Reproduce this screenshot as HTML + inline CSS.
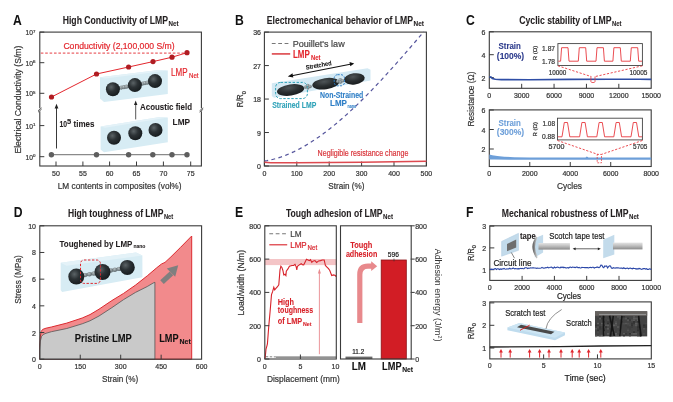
<!DOCTYPE html>
<html><head><meta charset="utf-8"><style>
html,body{margin:0;padding:0;background:#fff;}
svg{display:block;filter:blur(0.4px);}
text{font-family:"Liberation Sans", sans-serif;}
</style></head><body>
<svg width="673" height="402" viewBox="0 0 673 402">
<defs>
<radialGradient id="sph" cx="0.38" cy="0.35" r="0.7"><stop offset="0" stop-color="#5b6366"/><stop offset="0.45" stop-color="#2c3235"/><stop offset="1" stop-color="#151a1c"/></radialGradient>
<radialGradient id="ell" cx="0.45" cy="0.3" r="0.75"><stop offset="0" stop-color="#4e5457"/><stop offset="0.5" stop-color="#2a2f31"/><stop offset="1" stop-color="#16191b"/></radialGradient>
<radialGradient id="knob" cx="0.4" cy="0.35" r="0.7"><stop offset="0" stop-color="#b4bec1"/><stop offset="1" stop-color="#5c676b"/></radialGradient>
<linearGradient id="cyl" x1="0" y1="0" x2="0" y2="1"><stop offset="0" stop-color="#e4e4e4"/><stop offset="0.45" stop-color="#c0c0c0"/><stop offset="1" stop-color="#8a8a8a"/></linearGradient>
<linearGradient id="tapeg" x1="0" y1="0" x2="1" y2="0"><stop offset="0" stop-color="#555"/><stop offset="1" stop-color="#ddd"/></linearGradient>
</defs>
<rect width="673" height="402" fill="#fff"/>
<text x="0" y="0" font-size="14.5" font-weight="bold" fill="#111" transform="translate(13.00 24.5) scale(0.84 1)">A</text>
<text x="62.70" y="24.00" font-size="10.4" font-weight="bold" fill="#231f20" stroke="#231f20" stroke-width="0.08" text-anchor="start" textLength="105.30" lengthAdjust="spacingAndGlyphs">High Conductivity of LMP</text>
<text x="168.60" y="25.70" font-size="6.3" font-weight="bold" fill="#231f20" stroke="#231f20" stroke-width="0.08" text-anchor="start" textLength="10.00" lengthAdjust="spacingAndGlyphs">Net</text>
<rect x="39.80" y="32.10" width="161.60" height="133.90" fill="none" stroke="#3a3a3a" stroke-width="1.1"/>
<line x1="39.80" y1="32.10" x2="44.30" y2="32.10" stroke="#3a3a3a" stroke-width="1"/>
<text x="25.50" y="35.00" font-size="7.0" font-weight="normal" fill="#333" stroke="#333" stroke-width="0.2" text-anchor="start" textLength="7.40" lengthAdjust="spacingAndGlyphs">10</text>
<text x="33.10" y="32.70" font-size="4.4" font-weight="normal" fill="#333" stroke="#333" stroke-width="0.2" text-anchor="start">7</text>
<line x1="39.80" y1="62.70" x2="44.30" y2="62.70" stroke="#3a3a3a" stroke-width="1"/>
<text x="25.50" y="65.60" font-size="7.0" font-weight="normal" fill="#333" stroke="#333" stroke-width="0.2" text-anchor="start" textLength="7.40" lengthAdjust="spacingAndGlyphs">10</text>
<text x="33.10" y="63.30" font-size="4.4" font-weight="normal" fill="#333" stroke="#333" stroke-width="0.2" text-anchor="start">6</text>
<line x1="39.80" y1="93.30" x2="44.30" y2="93.30" stroke="#3a3a3a" stroke-width="1"/>
<text x="25.50" y="96.20" font-size="7.0" font-weight="normal" fill="#333" stroke="#333" stroke-width="0.2" text-anchor="start" textLength="7.40" lengthAdjust="spacingAndGlyphs">10</text>
<text x="33.10" y="93.90" font-size="4.4" font-weight="normal" fill="#333" stroke="#333" stroke-width="0.2" text-anchor="start">5</text>
<line x1="39.80" y1="125.60" x2="44.30" y2="125.60" stroke="#3a3a3a" stroke-width="1"/>
<text x="25.50" y="128.50" font-size="7.0" font-weight="normal" fill="#333" stroke="#333" stroke-width="0.2" text-anchor="start" textLength="7.40" lengthAdjust="spacingAndGlyphs">10</text>
<text x="33.10" y="126.20" font-size="4.4" font-weight="normal" fill="#333" stroke="#333" stroke-width="0.2" text-anchor="start">1</text>
<line x1="39.80" y1="156.70" x2="44.30" y2="156.70" stroke="#3a3a3a" stroke-width="1"/>
<text x="25.50" y="159.60" font-size="7.0" font-weight="normal" fill="#333" stroke="#333" stroke-width="0.2" text-anchor="start" textLength="7.40" lengthAdjust="spacingAndGlyphs">10</text>
<text x="33.10" y="157.30" font-size="4.4" font-weight="normal" fill="#333" stroke="#333" stroke-width="0.2" text-anchor="start">0</text>
<rect x="37.80" y="108.3" width="4" height="3" fill="#fff"/>
<path d="M38.00,110.8 L41.60,107.8 M38.00,112.2 L41.60,109.2" fill="none" stroke="#3a3a3a" stroke-width="0.8"/>
<rect x="199.40" y="108.3" width="4" height="3" fill="#fff"/>
<path d="M199.60,110.8 L203.20,107.8 M199.60,112.2 L203.20,109.2" fill="none" stroke="#3a3a3a" stroke-width="0.8"/>
<line x1="56.00" y1="166.00" x2="56.00" y2="161.50" stroke="#3a3a3a" stroke-width="1"/>
<text x="56.00" y="175.60" font-size="7.0" font-weight="normal" fill="#333" stroke="#333" stroke-width="0.2" text-anchor="middle">50</text>
<line x1="82.90" y1="166.00" x2="82.90" y2="161.50" stroke="#3a3a3a" stroke-width="1"/>
<text x="82.90" y="175.60" font-size="7.0" font-weight="normal" fill="#333" stroke="#333" stroke-width="0.2" text-anchor="middle">55</text>
<line x1="109.60" y1="166.00" x2="109.60" y2="161.50" stroke="#3a3a3a" stroke-width="1"/>
<text x="109.60" y="175.60" font-size="7.0" font-weight="normal" fill="#333" stroke="#333" stroke-width="0.2" text-anchor="middle">60</text>
<line x1="136.50" y1="166.00" x2="136.50" y2="161.50" stroke="#3a3a3a" stroke-width="1"/>
<text x="136.50" y="175.60" font-size="7.0" font-weight="normal" fill="#333" stroke="#333" stroke-width="0.2" text-anchor="middle">65</text>
<line x1="163.40" y1="166.00" x2="163.40" y2="161.50" stroke="#3a3a3a" stroke-width="1"/>
<text x="163.40" y="175.60" font-size="7.0" font-weight="normal" fill="#333" stroke="#333" stroke-width="0.2" text-anchor="middle">70</text>
<line x1="190.70" y1="166.00" x2="190.70" y2="161.50" stroke="#3a3a3a" stroke-width="1"/>
<text x="190.70" y="175.60" font-size="7.0" font-weight="normal" fill="#333" stroke="#333" stroke-width="0.2" text-anchor="middle">75</text>
<text x="57.70" y="188.60" font-size="9.0" font-weight="normal" fill="#333" stroke="#333" stroke-width="0.2" text-anchor="start" textLength="123.80" lengthAdjust="spacingAndGlyphs">LM contents in composites (vol%)</text>
<text x="20.70" y="99.60" font-size="9.0" font-weight="normal" fill="#333" stroke="#333" stroke-width="0.2" text-anchor="middle" textLength="108.00" lengthAdjust="spacingAndGlyphs" transform="rotate(-90 20.70 99.60)">Electrical Conductivity (S/m)</text>
<line x1="40.80" y1="53.10" x2="185.00" y2="53.10" stroke="#e3262d" stroke-width="0.9" stroke-dasharray="2.6,1.8"/>
<text x="63.40" y="48.80" font-size="9.0" font-weight="normal" fill="#e3262d" stroke="#e3262d" stroke-width="0.2" text-anchor="start" textLength="111.20" lengthAdjust="spacingAndGlyphs">Conductivity (2,100,000 S/m)</text>
<path d="M51.40,154.70 L96.50,154.70 L128.60,154.70 L152.80,154.70 L172.00,154.70 L187.00,154.70" fill="none" stroke="#8a8a8a" stroke-width="1.3"/>
<circle cx="51.4" cy="154.7" r="2.7" fill="#5e5e5e"/>
<circle cx="96.5" cy="154.7" r="2.7" fill="#5e5e5e"/>
<circle cx="128.6" cy="154.7" r="2.7" fill="#5e5e5e"/>
<circle cx="152.8" cy="154.7" r="2.7" fill="#5e5e5e"/>
<circle cx="172.0" cy="154.7" r="2.7" fill="#5e5e5e"/>
<circle cx="187.0" cy="154.7" r="2.7" fill="#5e5e5e"/>
<path d="M51.50,97.00 L96.50,74.00 L128.60,67.00 L153.00,61.60 L172.00,57.20 L187.00,52.70" fill="none" stroke="#e3262d" stroke-width="1.0"/>
<circle cx="51.5" cy="97.0" r="2.6" fill="#b01c22"/>
<circle cx="96.5" cy="74.0" r="2.6" fill="#b01c22"/>
<circle cx="128.6" cy="67.0" r="2.6" fill="#b01c22"/>
<circle cx="153.0" cy="61.6" r="2.6" fill="#b01c22"/>
<circle cx="172.0" cy="57.2" r="2.6" fill="#b01c22"/>
<circle cx="187.0" cy="52.7" r="2.6" fill="#b01c22"/>
<text x="171.00" y="76.10" font-size="10.0" font-weight="normal" fill="#e3262d" stroke="#e3262d" stroke-width="0.2" text-anchor="start" textLength="16.50" lengthAdjust="spacingAndGlyphs">LMP</text>
<text x="189.00" y="78.00" font-size="6.5" font-weight="normal" fill="#e3262d" stroke="#e3262d" stroke-width="0.2" text-anchor="start" textLength="9.50" lengthAdjust="spacingAndGlyphs">Net</text>
<line x1="56.50" y1="148.50" x2="56.50" y2="107.50" stroke="#222" stroke-width="0.9"/>
<path d="M56.5,103.8 L54.6,108.6 L58.4,108.6 Z" fill="#222" stroke="none" stroke-width="1.0"/>
<text x="59.40" y="127.30" font-size="8.2" font-weight="bold" fill="#231f20" stroke="#231f20" stroke-width="0.08" text-anchor="start" textLength="7.60" lengthAdjust="spacingAndGlyphs">10</text>
<text x="67.00" y="124.30" font-size="6.4" font-weight="bold" fill="#231f20" stroke="#231f20" stroke-width="0.08" text-anchor="start" textLength="4.20" lengthAdjust="spacingAndGlyphs">5</text>
<text x="73.50" y="127.30" font-size="8.7" font-weight="bold" fill="#231f20" stroke="#231f20" stroke-width="0.08" text-anchor="start" textLength="20.90" lengthAdjust="spacingAndGlyphs">times</text>
<path d="M100,77.3 L158.9,69.9 L167.8,70.5 L167.8,94.1 L104,102 L100,98.6 Z" fill="#d7ecf4"/>
<path d="M100,77.3 L158.9,69.9 L167.8,70.5 L105,78.6 Z" fill="#e4f2f8"/>
<path d="M100.6,126.6 L158.5,117.2 L167.8,117.6 L167.8,142.2 L104,152.3 L100.6,149.5 Z" fill="#d7ecf4"/>
<path d="M100.6,126.6 L158.5,117.2 L167.8,117.6 L105,127.8 Z" fill="#e4f2f8"/>
<line x1="112.90" y1="89.20" x2="134.90" y2="85.10" stroke="#6f7a7e" stroke-width="2.8"/>
<circle cx="121.3" cy="87.6" r="2.1" fill="url(#knob)"/>
<circle cx="123.9" cy="87.2" r="2.1" fill="url(#knob)"/>
<circle cx="126.5" cy="86.7" r="2.1" fill="url(#knob)"/>
<line x1="134.90" y1="85.10" x2="155.00" y2="81.10" stroke="#6f7a7e" stroke-width="2.8"/>
<circle cx="142.5" cy="83.6" r="2.1" fill="url(#knob)"/>
<circle cx="144.9" cy="83.1" r="2.1" fill="url(#knob)"/>
<circle cx="147.4" cy="82.6" r="2.1" fill="url(#knob)"/>
<circle cx="112.90" cy="89.20" r="7.00" fill="url(#sph)"/>
<circle cx="134.90" cy="85.10" r="7.00" fill="url(#sph)"/>
<circle cx="155.00" cy="81.10" r="7.00" fill="url(#sph)"/>
<circle cx="114.00" cy="137.80" r="7.00" fill="url(#sph)"/>
<circle cx="135.30" cy="133.30" r="7.00" fill="url(#sph)"/>
<circle cx="155.50" cy="129.90" r="7.00" fill="url(#sph)"/>
<line x1="135.70" y1="119.40" x2="135.70" y2="104.00" stroke="#444" stroke-width="0.9"/>
<path d="M135.7,100.5 L134,105 L137.4,105 Z" fill="#222" stroke="none" stroke-width="1.0"/>
<text x="140.00" y="110.10" font-size="9.6" font-weight="bold" fill="#231f20" stroke="#231f20" stroke-width="0.08" text-anchor="start" textLength="52.00" lengthAdjust="spacingAndGlyphs">Acoustic field</text>
<text x="172.60" y="124.60" font-size="9.1" font-weight="bold" fill="#231f20" stroke="#231f20" stroke-width="0.08" text-anchor="start" textLength="17.40" lengthAdjust="spacingAndGlyphs">LMP</text>
<text x="0" y="0" font-size="14.5" font-weight="bold" fill="#111" transform="translate(235.00 24.5) scale(0.84 1)">B</text>
<text x="266.80" y="24.00" font-size="10.4" font-weight="bold" fill="#231f20" stroke="#231f20" stroke-width="0.08" text-anchor="start" textLength="146.20" lengthAdjust="spacingAndGlyphs">Electromechanical behavior of LMP</text>
<text x="413.60" y="25.70" font-size="6.3" font-weight="bold" fill="#231f20" stroke="#231f20" stroke-width="0.08" text-anchor="start" textLength="10.40" lengthAdjust="spacingAndGlyphs">Net</text>
<rect x="264.40" y="32.10" width="162.00" height="133.90" fill="none" stroke="#3a3a3a" stroke-width="1.1"/>
<line x1="264.40" y1="166.00" x2="268.90" y2="166.00" stroke="#3a3a3a" stroke-width="1"/>
<text x="261.00" y="169.00" font-size="7.0" font-weight="normal" fill="#333" stroke="#333" stroke-width="0.2" text-anchor="end">0</text>
<line x1="264.40" y1="132.53" x2="268.90" y2="132.53" stroke="#3a3a3a" stroke-width="1"/>
<text x="261.00" y="135.53" font-size="7.0" font-weight="normal" fill="#333" stroke="#333" stroke-width="0.2" text-anchor="end">9</text>
<line x1="264.40" y1="99.05" x2="268.90" y2="99.05" stroke="#3a3a3a" stroke-width="1"/>
<text x="261.00" y="102.05" font-size="7.0" font-weight="normal" fill="#333" stroke="#333" stroke-width="0.2" text-anchor="end">18</text>
<line x1="264.40" y1="65.57" x2="268.90" y2="65.57" stroke="#3a3a3a" stroke-width="1"/>
<text x="261.00" y="68.57" font-size="7.0" font-weight="normal" fill="#333" stroke="#333" stroke-width="0.2" text-anchor="end">27</text>
<line x1="264.40" y1="32.10" x2="268.90" y2="32.10" stroke="#3a3a3a" stroke-width="1"/>
<text x="261.00" y="35.10" font-size="7.0" font-weight="normal" fill="#333" stroke="#333" stroke-width="0.2" text-anchor="end">36</text>
<line x1="264.40" y1="166.00" x2="264.40" y2="161.50" stroke="#3a3a3a" stroke-width="1"/>
<text x="264.40" y="175.60" font-size="7.0" font-weight="normal" fill="#333" stroke="#333" stroke-width="0.2" text-anchor="middle">0</text>
<line x1="296.80" y1="166.00" x2="296.80" y2="161.50" stroke="#3a3a3a" stroke-width="1"/>
<text x="296.80" y="175.60" font-size="7.0" font-weight="normal" fill="#333" stroke="#333" stroke-width="0.2" text-anchor="middle">100</text>
<line x1="329.20" y1="166.00" x2="329.20" y2="161.50" stroke="#3a3a3a" stroke-width="1"/>
<text x="329.20" y="175.60" font-size="7.0" font-weight="normal" fill="#333" stroke="#333" stroke-width="0.2" text-anchor="middle">200</text>
<line x1="361.60" y1="166.00" x2="361.60" y2="161.50" stroke="#3a3a3a" stroke-width="1"/>
<text x="361.60" y="175.60" font-size="7.0" font-weight="normal" fill="#333" stroke="#333" stroke-width="0.2" text-anchor="middle">300</text>
<line x1="394.00" y1="166.00" x2="394.00" y2="161.50" stroke="#3a3a3a" stroke-width="1"/>
<text x="394.00" y="175.60" font-size="7.0" font-weight="normal" fill="#333" stroke="#333" stroke-width="0.2" text-anchor="middle">400</text>
<line x1="426.40" y1="166.00" x2="426.40" y2="161.50" stroke="#3a3a3a" stroke-width="1"/>
<text x="426.40" y="175.60" font-size="7.0" font-weight="normal" fill="#333" stroke="#333" stroke-width="0.2" text-anchor="middle">500</text>
<text x="328.30" y="188.60" font-size="9.0" font-weight="normal" fill="#333" stroke="#333" stroke-width="0.2" text-anchor="start" textLength="36.10" lengthAdjust="spacingAndGlyphs">Strain (%)</text>
<text x="243.20" y="107.20" font-size="8.8" font-weight="normal" fill="#2a2a2a" stroke="#2a2a2a" stroke-width="0.2" text-anchor="start" textLength="12.80" lengthAdjust="spacingAndGlyphs" transform="rotate(-90 243.20 107.20)">R/R</text>
<text x="245.60" y="94.20" font-size="5.6" font-weight="normal" fill="#2a2a2a" stroke="#2a2a2a" stroke-width="0.2" text-anchor="start" transform="rotate(-90 245.60 94.20)">0</text>
<path d="M264.40,161.08 L267.10,160.63 L269.80,160.09 L272.51,159.47 L275.21,158.76 L277.91,157.97 L280.61,157.10 L283.31,156.15 L286.01,155.13 L288.72,154.02 L291.42,152.84 L294.12,151.59 L296.82,150.26 L299.52,148.87 L302.22,147.40 L304.93,145.86 L307.63,144.26 L310.33,142.59 L313.03,140.86 L315.73,139.07 L318.43,137.21 L321.14,135.30 L323.84,133.32 L326.54,131.29 L329.24,129.20 L331.94,127.06 L334.64,124.86 L337.35,122.62 L340.05,120.32 L342.75,117.97 L345.45,115.58 L348.15,113.14 L350.85,110.66 L353.56,108.13 L356.26,105.56 L358.96,102.95 L361.66,100.30 L364.36,97.61 L367.06,94.89 L369.77,92.13 L372.47,89.34 L375.17,86.51 L377.87,83.66 L380.57,80.77 L383.27,77.86 L385.98,74.92 L388.68,71.96 L391.38,68.97 L394.08,65.96 L396.78,62.93 L399.48,59.88 L402.19,56.81 L404.89,53.72 L407.59,50.62 L410.29,47.51 L412.99,44.38 L415.69,41.24 L418.40,38.09 L421.10,34.93 L423.80,31.76" fill="none" stroke="#55559c" stroke-width="1.2" stroke-dasharray="3.8,3.4"/>
<path d="M264.40,162.20 L270.88,162.80 L296.80,162.80 L361.60,162.20 L426.40,161.20" fill="none" stroke="#de4a50" stroke-width="1.5"/>
<text x="317.60" y="155.60" font-size="8.4" font-weight="normal" fill="#d9363c" stroke="#d9363c" stroke-width="0.2" text-anchor="start" textLength="90.80" lengthAdjust="spacingAndGlyphs">Negligible resistance change</text>
<line x1="271.80" y1="43.50" x2="290.20" y2="43.50" stroke="#777" stroke-width="1.1" stroke-dasharray="3.8,2.6"/>
<text x="292.70" y="46.70" font-size="9.0" font-weight="normal" fill="#444" stroke="#444" stroke-width="0.2" text-anchor="start" textLength="52.00" lengthAdjust="spacingAndGlyphs">Pouillet's law</text>
<line x1="271.80" y1="53.90" x2="290.20" y2="53.90" stroke="#e05a5e" stroke-width="1.8"/>
<text x="292.90" y="57.60" font-size="10.0" font-weight="bold" fill="#e3262d" stroke="#e3262d" stroke-width="0.08" text-anchor="start" textLength="16.80" lengthAdjust="spacingAndGlyphs">LMP</text>
<text x="311.00" y="59.70" font-size="6.5" font-weight="bold" fill="#e3262d" stroke="#e3262d" stroke-width="0.08" text-anchor="start" textLength="9.40" lengthAdjust="spacingAndGlyphs">Net</text>
<path d="M271.8,83.2 L367.5,68.2 L370.5,69.8 L370.5,80.6 L274,97.7 L271.8,96 Z" fill="#d4e9f3"/>
<ellipse cx="290.6" cy="90.0" rx="13.7" ry="5.6" transform="rotate(-8 290.6 90.0)" fill="url(#ell)"/>
<ellipse cx="325.7" cy="83.7" rx="13.5" ry="5.6" transform="rotate(-8 325.7 83.7)" fill="url(#ell)"/>
<ellipse cx="354.3" cy="78.9" rx="10.5" ry="5.6" transform="rotate(-8 354.3 78.9)" fill="url(#ell)"/>
<circle cx="305.30" cy="87.10" r="1.7" fill="url(#knob)"/>
<circle cx="307.70" cy="85.70" r="1.9" fill="url(#knob)"/>
<circle cx="310.10" cy="86.50" r="1.7" fill="url(#knob)"/>
<circle cx="307.90" cy="87.90" r="1.5" fill="url(#knob)"/>
<circle cx="337.80" cy="81.40" r="1.7" fill="url(#knob)"/>
<circle cx="340.20" cy="80.00" r="1.9" fill="url(#knob)"/>
<circle cx="342.60" cy="80.80" r="1.7" fill="url(#knob)"/>
<circle cx="340.40" cy="82.20" r="1.5" fill="url(#knob)"/>
<rect x="275.6" y="82.4" width="31.8" height="16.2" rx="5" fill="none" stroke="#2ea2b8" stroke-width="1" stroke-dasharray="2.4,1.6"/>
<rect x="334.2" y="74.7" width="10.3" height="11.1" rx="3.5" fill="none" stroke="#2d7ec6" stroke-width="1" stroke-dasharray="2,1.4"/>
<line x1="290.50" y1="76.00" x2="351.50" y2="64.00" stroke="#111" stroke-width="1.1"/>
<path d="M287.8,76.5 L292.5,73.3 L293.3,77.4 Z" fill="#111" stroke="none" stroke-width="1.0"/>
<path d="M354.2,63.5 L349.5,62.1 L350.3,66.2 Z" fill="#111" stroke="none" stroke-width="1.0"/>
<text x="319.00" y="67.40" font-size="6.4" font-weight="bold" fill="#111" stroke="#111" stroke-width="0.08" text-anchor="middle" textLength="26.00" lengthAdjust="spacingAndGlyphs" transform="rotate(-10.5 319.00 67.40)">Stretched</text>
<text x="272.20" y="108.30" font-size="8.2" font-weight="bold" fill="#2ea2b8" stroke="#2ea2b8" stroke-width="0.08" text-anchor="start" textLength="44.10" lengthAdjust="spacingAndGlyphs">Strained LMP</text>
<text x="320.00" y="97.60" font-size="8.2" font-weight="bold" fill="#2d7ec6" stroke="#2d7ec6" stroke-width="0.08" text-anchor="start" textLength="43.30" lengthAdjust="spacingAndGlyphs">Non-Strained</text>
<text x="330.00" y="105.80" font-size="8.2" font-weight="bold" fill="#2d7ec6" stroke="#2d7ec6" stroke-width="0.08" text-anchor="start" textLength="17.00" lengthAdjust="spacingAndGlyphs">LMP</text>
<text x="347.50" y="107.60" font-size="6.0" font-weight="bold" fill="#2d7ec6" stroke="#2d7ec6" stroke-width="0.08" text-anchor="start" textLength="8.60" lengthAdjust="spacingAndGlyphs">nano</text>
<text x="0" y="0" font-size="14.5" font-weight="bold" fill="#111" transform="translate(466.00 24.5) scale(0.84 1)">C</text>
<text x="519.20" y="24.00" font-size="10.4" font-weight="bold" fill="#231f20" stroke="#231f20" stroke-width="0.08" text-anchor="start" textLength="92.30" lengthAdjust="spacingAndGlyphs">Cyclic stability of LMP</text>
<text x="612.10" y="25.70" font-size="6.3" font-weight="bold" fill="#231f20" stroke="#231f20" stroke-width="0.08" text-anchor="start" textLength="9.40" lengthAdjust="spacingAndGlyphs">Net</text>
<rect x="489.30" y="31.80" width="161.90" height="56.50" fill="none" stroke="#3a3a3a" stroke-width="1.1"/>
<line x1="489.30" y1="77.60" x2="493.80" y2="77.60" stroke="#3a3a3a" stroke-width="1"/>
<text x="485.50" y="80.60" font-size="7.0" font-weight="normal" fill="#333" stroke="#333" stroke-width="0.2" text-anchor="end">2</text>
<line x1="489.30" y1="54.70" x2="493.80" y2="54.70" stroke="#3a3a3a" stroke-width="1"/>
<text x="485.50" y="57.70" font-size="7.0" font-weight="normal" fill="#333" stroke="#333" stroke-width="0.2" text-anchor="end">4</text>
<line x1="489.30" y1="31.80" x2="493.80" y2="31.80" stroke="#3a3a3a" stroke-width="1"/>
<text x="485.50" y="34.80" font-size="7.0" font-weight="normal" fill="#333" stroke="#333" stroke-width="0.2" text-anchor="end">6</text>
<text x="489.30" y="97.70" font-size="7.0" font-weight="normal" fill="#333" stroke="#333" stroke-width="0.2" text-anchor="middle">0</text>
<line x1="521.68" y1="88.30" x2="521.68" y2="83.80" stroke="#3a3a3a" stroke-width="1"/>
<text x="521.68" y="97.70" font-size="7.0" font-weight="normal" fill="#333" stroke="#333" stroke-width="0.2" text-anchor="middle">3000</text>
<line x1="554.06" y1="88.30" x2="554.06" y2="83.80" stroke="#3a3a3a" stroke-width="1"/>
<text x="554.06" y="97.70" font-size="7.0" font-weight="normal" fill="#333" stroke="#333" stroke-width="0.2" text-anchor="middle">6000</text>
<line x1="586.44" y1="88.30" x2="586.44" y2="83.80" stroke="#3a3a3a" stroke-width="1"/>
<text x="586.44" y="97.70" font-size="7.0" font-weight="normal" fill="#333" stroke="#333" stroke-width="0.2" text-anchor="middle">9000</text>
<line x1="618.82" y1="88.30" x2="618.82" y2="83.80" stroke="#3a3a3a" stroke-width="1"/>
<text x="618.82" y="97.70" font-size="7.0" font-weight="normal" fill="#333" stroke="#333" stroke-width="0.2" text-anchor="middle">12000</text>
<text x="651.20" y="97.70" font-size="7.0" font-weight="normal" fill="#333" stroke="#333" stroke-width="0.2" text-anchor="middle">15000</text>
<path d="M489.30,77.20 L490.80,76.80 L492.30,78.60 L495.30,79.20 L501.30,79.60 L529.30,79.70 L569.30,79.40 L609.30,79.30 L639.30,79.30 L651.20,79.40" fill="none" stroke="#2f4ea6" stroke-width="1.6"/>
<text x="498.50" y="48.80" font-size="8.6" font-weight="bold" fill="#2b3a8c" stroke="#2b3a8c" stroke-width="0.08" text-anchor="start" textLength="22.40" lengthAdjust="spacingAndGlyphs">Strain</text>
<text x="496.80" y="59.20" font-size="8.6" font-weight="bold" fill="#2b3a8c" stroke="#2b3a8c" stroke-width="0.08" text-anchor="start" textLength="27.40" lengthAdjust="spacingAndGlyphs">(100%)</text>
<rect x="557.9" y="43.6" width="84.5" height="21.9" fill="#fff" stroke="#444" stroke-width="0.9"/>
<path d="M558.30,61.20 L560.60,61.20 L561.60,47.70 L568.00,47.70 L569.00,61.20 L578.30,61.20 L579.30,47.70 L585.70,47.70 L586.70,61.20 L596.00,61.20 L597.00,47.70 L603.40,47.70 L604.40,61.20 L612.90,61.20 L613.90,47.70 L620.30,47.70 L621.30,61.20 L630.30,61.20 L631.30,47.70 L637.70,47.70 L638.70,61.20 L642.00,61.20" fill="none" stroke="#e8393e" stroke-width="0.9"/>
<text x="537.30" y="53.00" font-size="6.0" font-weight="normal" fill="#333" stroke="#333" stroke-width="0.2" text-anchor="middle" transform="rotate(-90 537.30 53.00)">R (Ω)</text>
<text x="542.10" y="50.50" font-size="6.5" font-weight="normal" fill="#333" stroke="#333" stroke-width="0.2" text-anchor="start" textLength="13.00" lengthAdjust="spacingAndGlyphs">1.87</text>
<text x="542.10" y="63.50" font-size="6.5" font-weight="normal" fill="#333" stroke="#333" stroke-width="0.2" text-anchor="start" textLength="13.00" lengthAdjust="spacingAndGlyphs">1.78</text>
<text x="548.80" y="74.70" font-size="6.5" font-weight="normal" fill="#333" stroke="#333" stroke-width="0.2" text-anchor="start" textLength="17.60" lengthAdjust="spacingAndGlyphs">10000</text>
<text x="629.40" y="74.70" font-size="6.5" font-weight="normal" fill="#333" stroke="#333" stroke-width="0.2" text-anchor="start" textLength="18.00" lengthAdjust="spacingAndGlyphs">10005</text>
<path d="M557.9,65.8 L591.3,76.6 M642.4,65.8 L595,76.6" fill="none" stroke="#e8393e" stroke-width="0.9" stroke-dasharray="2.2,1.6"/>
<path d="M590.9,76.5 L590.9,81.5 Q590.9,82.6 593,82.6 Q595,82.6 595,81.5 L595,76.5" fill="none" stroke="#e8393e" stroke-width="0.8"/>
<rect x="489.30" y="109.90" width="161.90" height="56.60" fill="none" stroke="#3a3a3a" stroke-width="1.1"/>
<line x1="489.30" y1="149.00" x2="493.80" y2="149.00" stroke="#3a3a3a" stroke-width="1"/>
<text x="485.50" y="152.00" font-size="7.0" font-weight="normal" fill="#333" stroke="#333" stroke-width="0.2" text-anchor="end">2</text>
<line x1="489.30" y1="129.50" x2="493.80" y2="129.50" stroke="#3a3a3a" stroke-width="1"/>
<text x="485.50" y="132.50" font-size="7.0" font-weight="normal" fill="#333" stroke="#333" stroke-width="0.2" text-anchor="end">4</text>
<line x1="489.30" y1="110.00" x2="493.80" y2="110.00" stroke="#3a3a3a" stroke-width="1"/>
<text x="485.50" y="113.00" font-size="7.0" font-weight="normal" fill="#333" stroke="#333" stroke-width="0.2" text-anchor="end">6</text>
<text x="489.30" y="175.70" font-size="7.0" font-weight="normal" fill="#333" stroke="#333" stroke-width="0.2" text-anchor="middle">0</text>
<line x1="529.77" y1="166.50" x2="529.77" y2="162.00" stroke="#3a3a3a" stroke-width="1"/>
<text x="529.77" y="175.70" font-size="7.0" font-weight="normal" fill="#333" stroke="#333" stroke-width="0.2" text-anchor="middle">2000</text>
<line x1="570.25" y1="166.50" x2="570.25" y2="162.00" stroke="#3a3a3a" stroke-width="1"/>
<text x="570.25" y="175.70" font-size="7.0" font-weight="normal" fill="#333" stroke="#333" stroke-width="0.2" text-anchor="middle">4000</text>
<line x1="610.73" y1="166.50" x2="610.73" y2="162.00" stroke="#3a3a3a" stroke-width="1"/>
<text x="610.73" y="175.70" font-size="7.0" font-weight="normal" fill="#333" stroke="#333" stroke-width="0.2" text-anchor="middle">6000</text>
<text x="651.20" y="175.70" font-size="7.0" font-weight="normal" fill="#333" stroke="#333" stroke-width="0.2" text-anchor="middle">8000</text>
<text x="557.00" y="188.60" font-size="9.0" font-weight="normal" fill="#333" stroke="#333" stroke-width="0.2" text-anchor="start" textLength="25.00" lengthAdjust="spacingAndGlyphs">Cycles</text>
<path d="M489.30,154.60 L492.30,155.20 L497.30,156.00 L504.30,156.70 L514.30,157.20 L529.30,157.50 L585.50,157.40 L586.80,156.50 L588.50,157.50 L651.20,157.60 L651.20,159.70 L509.30,159.70 L494.30,159.60 L489.30,159.50 Z" fill="#6d9fd9" stroke="none" stroke-width="1.0"/>
<text x="498.50" y="125.80" font-size="8.6" font-weight="bold" fill="#6d9fd9" stroke="#6d9fd9" stroke-width="0.08" text-anchor="start" textLength="22.40" lengthAdjust="spacingAndGlyphs">Strain</text>
<text x="496.80" y="135.20" font-size="8.6" font-weight="bold" fill="#6d9fd9" stroke="#6d9fd9" stroke-width="0.08" text-anchor="start" textLength="27.40" lengthAdjust="spacingAndGlyphs">(300%)</text>
<rect x="557.5" y="118.2" width="84.9" height="21.7" fill="#fff" stroke="#444" stroke-width="0.9"/>
<path d="M558.00,136.80 L562.00,136.80 L564.30,122.50 L567.50,122.50 L569.80,136.80 L579.60,136.80 L581.90,122.50 L585.10,122.50 L587.40,136.80 L596.80,136.80 L599.10,122.50 L602.30,122.50 L604.60,136.80 L613.80,136.80 L616.10,122.50 L619.30,122.50 L621.60,136.80 L631.00,136.80 L633.30,122.50 L636.50,122.50 L638.80,136.80 L642.00,136.80" fill="none" stroke="#e8393e" stroke-width="0.9"/>
<text x="537.30" y="129.20" font-size="6.0" font-weight="normal" fill="#333" stroke="#333" stroke-width="0.2" text-anchor="middle" transform="rotate(-90 537.30 129.20)">R (Ω)</text>
<text x="542.40" y="126.10" font-size="6.5" font-weight="normal" fill="#333" stroke="#333" stroke-width="0.2" text-anchor="start" textLength="12.60" lengthAdjust="spacingAndGlyphs">1.08</text>
<text x="542.00" y="139.10" font-size="6.5" font-weight="normal" fill="#333" stroke="#333" stroke-width="0.2" text-anchor="start" textLength="13.00" lengthAdjust="spacingAndGlyphs">0.88</text>
<text x="548.60" y="149.40" font-size="6.5" font-weight="normal" fill="#333" stroke="#333" stroke-width="0.2" text-anchor="start" textLength="15.80" lengthAdjust="spacingAndGlyphs">5700</text>
<text x="633.10" y="149.40" font-size="6.5" font-weight="normal" fill="#333" stroke="#333" stroke-width="0.2" text-anchor="start" textLength="14.30" lengthAdjust="spacingAndGlyphs">5705</text>
<path d="M557.5,140.5 L597.8,154.4 M642.4,140.5 L601.5,154.4" fill="none" stroke="#e8393e" stroke-width="0.9" stroke-dasharray="2.2,1.6"/>
<rect x="597.2" y="154.4" width="4.3" height="8.4" fill="none" stroke="#e8393e" stroke-width="0.8" stroke-dasharray="1.8,1.2"/>
<text x="474.30" y="99.00" font-size="9.0" font-weight="normal" fill="#333" stroke="#333" stroke-width="0.2" text-anchor="middle" textLength="55.00" lengthAdjust="spacingAndGlyphs" transform="rotate(-90 474.30 99.00)">Resistance (Ω)</text>
<text x="0" y="0" font-size="14.5" font-weight="bold" fill="#111" transform="translate(13.70 217.0) scale(0.84 1)">D</text>
<text x="68.00" y="217.00" font-size="10.4" font-weight="bold" fill="#231f20" stroke="#231f20" stroke-width="0.08" text-anchor="start" textLength="95.40" lengthAdjust="spacingAndGlyphs">High toughness of LMP</text>
<text x="164.00" y="218.70" font-size="6.3" font-weight="bold" fill="#231f20" stroke="#231f20" stroke-width="0.08" text-anchor="start" textLength="9.20" lengthAdjust="spacingAndGlyphs">Net</text>
<path d="M39.80,359.20 L39.80,345.00 L40.40,336.00 L41.20,331.50 L42.60,329.40 L46.00,328.20 L51.40,327.00 L66.80,323.10 L82.20,318.00 L90.00,314.60 L99.00,309.20 L111.80,300.60 L123.60,293.40 L135.50,285.10 L147.30,275.80 L156.70,267.80 L161.50,264.00 L165.00,262.40 L170.90,256.90 L180.40,247.50 L191.70,236.00 L191.70,359.20 Z" fill="#f28a8c" stroke="#dc2a30" stroke-width="1.0"/>
<path d="M39.80,359.20 L39.80,350.00 L40.40,341.00 L41.50,336.50 L43.20,334.50 L46.00,333.30 L51.40,331.70 L66.80,328.50 L82.20,323.80 L90.00,320.80 L99.00,316.00 L111.80,307.70 L123.60,299.60 L135.50,292.40 L147.30,286.50 L153.20,283.00 L154.90,282.30 L154.90,359.20 Z" fill="#c9c9c9" stroke="#555" stroke-width="0.8"/>
<rect x="39.80" y="225.80" width="161.80" height="133.40" fill="none" stroke="#3a3a3a" stroke-width="1.1"/>
<line x1="39.80" y1="359.20" x2="44.30" y2="359.20" stroke="#3a3a3a" stroke-width="1"/>
<text x="36.00" y="362.20" font-size="7.0" font-weight="normal" fill="#333" stroke="#333" stroke-width="0.2" text-anchor="end">0</text>
<line x1="39.80" y1="332.52" x2="44.30" y2="332.52" stroke="#3a3a3a" stroke-width="1"/>
<text x="36.00" y="335.52" font-size="7.0" font-weight="normal" fill="#333" stroke="#333" stroke-width="0.2" text-anchor="end">2</text>
<line x1="39.80" y1="305.84" x2="44.30" y2="305.84" stroke="#3a3a3a" stroke-width="1"/>
<text x="36.00" y="308.84" font-size="7.0" font-weight="normal" fill="#333" stroke="#333" stroke-width="0.2" text-anchor="end">4</text>
<line x1="39.80" y1="279.16" x2="44.30" y2="279.16" stroke="#3a3a3a" stroke-width="1"/>
<text x="36.00" y="282.16" font-size="7.0" font-weight="normal" fill="#333" stroke="#333" stroke-width="0.2" text-anchor="end">6</text>
<line x1="39.80" y1="252.48" x2="44.30" y2="252.48" stroke="#3a3a3a" stroke-width="1"/>
<text x="36.00" y="255.48" font-size="7.0" font-weight="normal" fill="#333" stroke="#333" stroke-width="0.2" text-anchor="end">8</text>
<line x1="39.80" y1="225.80" x2="44.30" y2="225.80" stroke="#3a3a3a" stroke-width="1"/>
<text x="36.00" y="228.80" font-size="7.0" font-weight="normal" fill="#333" stroke="#333" stroke-width="0.2" text-anchor="end">10</text>
<text x="39.80" y="368.90" font-size="7.0" font-weight="normal" fill="#333" stroke="#333" stroke-width="0.2" text-anchor="middle">0</text>
<line x1="80.25" y1="359.20" x2="80.25" y2="354.70" stroke="#3a3a3a" stroke-width="1"/>
<text x="80.25" y="368.90" font-size="7.0" font-weight="normal" fill="#333" stroke="#333" stroke-width="0.2" text-anchor="middle">150</text>
<line x1="120.70" y1="359.20" x2="120.70" y2="354.70" stroke="#3a3a3a" stroke-width="1"/>
<text x="120.70" y="368.90" font-size="7.0" font-weight="normal" fill="#333" stroke="#333" stroke-width="0.2" text-anchor="middle">300</text>
<line x1="161.15" y1="359.20" x2="161.15" y2="354.70" stroke="#3a3a3a" stroke-width="1"/>
<text x="161.15" y="368.90" font-size="7.0" font-weight="normal" fill="#333" stroke="#333" stroke-width="0.2" text-anchor="middle">450</text>
<text x="201.60" y="368.90" font-size="7.0" font-weight="normal" fill="#333" stroke="#333" stroke-width="0.2" text-anchor="middle">600</text>
<text x="102.00" y="382.30" font-size="9.0" font-weight="normal" fill="#333" stroke="#333" stroke-width="0.2" text-anchor="start" textLength="36.20" lengthAdjust="spacingAndGlyphs">Strain (%)</text>
<text x="21.00" y="279.50" font-size="9.0" font-weight="normal" fill="#333" stroke="#333" stroke-width="0.2" text-anchor="middle" textLength="48.40" lengthAdjust="spacingAndGlyphs" transform="rotate(-90 21.00 279.50)">Stress (MPa)</text>
<text x="74.80" y="341.90" font-size="10.8" font-weight="bold" fill="#111" stroke="#111" stroke-width="0.08" text-anchor="start" textLength="57.00" lengthAdjust="spacingAndGlyphs">Pristine LMP</text>
<text x="159.20" y="341.60" font-size="10.8" font-weight="bold" fill="#111" stroke="#111" stroke-width="0.08" text-anchor="start" textLength="19.40" lengthAdjust="spacingAndGlyphs">LMP</text>
<text x="179.60" y="343.80" font-size="7.3" font-weight="bold" fill="#111" stroke="#111" stroke-width="0.08" text-anchor="start" textLength="11.20" lengthAdjust="spacingAndGlyphs">Net</text>
<text x="59.50" y="246.60" font-size="9.3" font-weight="bold" fill="#231f20" stroke="#231f20" stroke-width="0.08" text-anchor="start" textLength="72.90" lengthAdjust="spacingAndGlyphs">Toughened by LMP</text>
<text x="133.40" y="248.00" font-size="6.2" font-weight="bold" fill="#231f20" stroke="#231f20" stroke-width="0.08" text-anchor="start" textLength="12.00" lengthAdjust="spacingAndGlyphs">nano</text>
<path d="M60.7,262.8 L136,252.5 L142.4,255.5 L142.4,277.3 L62.1,291.9 L60.7,290 Z" fill="#d7ecf4"/>
<path d="M60.7,262.8 L136,252.5 L142.4,255.5 L66.5,265.8 Z" fill="#e4f2f8"/>
<line x1="76.30" y1="276.60" x2="102.50" y2="272.00" stroke="#6f7a7e" stroke-width="2.8"/>
<circle cx="84.9" cy="275.1" r="2.2" fill="url(#knob)"/>
<circle cx="89.4" cy="274.3" r="2.2" fill="url(#knob)"/>
<circle cx="93.9" cy="273.5" r="2.2" fill="url(#knob)"/>
<line x1="102.50" y1="272.00" x2="127.30" y2="267.40" stroke="#6f7a7e" stroke-width="2.8"/>
<circle cx="110.7" cy="270.5" r="2.2" fill="url(#knob)"/>
<circle cx="114.9" cy="269.7" r="2.2" fill="url(#knob)"/>
<circle cx="119.1" cy="268.9" r="2.2" fill="url(#knob)"/>
<circle cx="76.30" cy="276.60" r="8.00" fill="url(#sph)"/>
<circle cx="102.50" cy="272.00" r="8.00" fill="url(#sph)"/>
<circle cx="127.30" cy="267.40" r="7.50" fill="url(#sph)"/>
<rect x="80.5" y="260.0" width="19.9" height="23.4" rx="3.5" fill="none" stroke="#e02a30" stroke-width="1" stroke-dasharray="2.4,1.6"/>
<path d="M162.0,282.2 L171.5,273.4" fill="none" stroke="#7f7f7f" stroke-width="5.2"/>
<path d="M178.2,265.3 L166.8,268.6 L175.2,276.8 Z" fill="#7f7f7f" stroke="none" stroke-width="1.0"/>
<text x="0" y="0" font-size="14.5" font-weight="bold" fill="#111" transform="translate(235.00 217.0) scale(0.84 1)">E</text>
<text x="286.00" y="217.00" font-size="10.4" font-weight="bold" fill="#231f20" stroke="#231f20" stroke-width="0.08" text-anchor="start" textLength="96.50" lengthAdjust="spacingAndGlyphs">Tough adhesion of LMP</text>
<text x="383.10" y="218.70" font-size="6.3" font-weight="bold" fill="#231f20" stroke="#231f20" stroke-width="0.08" text-anchor="start" textLength="9.90" lengthAdjust="spacingAndGlyphs">Net</text>
<rect x="264.8" y="259.0" width="71.5" height="6.1" fill="#f4c4c6"/>
<line x1="265.80" y1="356.70" x2="276.00" y2="356.90" stroke="#777" stroke-width="0.9" stroke-dasharray="2.4,1.6"/>
<line x1="276.00" y1="357.10" x2="336.30" y2="357.10" stroke="#333" stroke-width="0.9"/>
<path d="M264.60,358.60 L265.20,357.60 L266.00,349.10 L267.00,345.60 L267.40,343.80 L267.70,340.20 L268.80,325.80 L270.10,311.50 L271.00,300.80 L271.50,294.50 L272.60,291.70 L273.80,287.30 L274.70,289.80 L275.70,288.60 L277.50,286.70 L278.80,284.80 L280.00,269.90 L280.90,266.20 L281.90,267.40 L282.90,270.50 L283.80,274.90 L285.00,274.30 L285.90,275.50 L286.30,271.10 L288.10,268.70 L289.40,266.20 L291.90,265.50 L293.70,265.50 L295.00,264.30 L296.20,266.80 L296.80,269.90 L297.40,266.20 L299.30,264.90 L301.20,263.70 L302.40,264.70 L303.70,264.90 L304.90,262.40 L306.50,259.30 L308.00,260.00 L309.30,260.60 L310.50,259.70 L311.80,262.40 L313.00,261.20 L314.90,260.60 L316.70,262.40 L318.60,260.90 L320.50,260.60 L322.30,260.00 L324.20,260.00 L325.40,265.50 L326.70,266.80 L328.50,268.70 L329.80,270.50 L331.70,275.50 L333.50,274.90 L335.40,275.50 L336.00,276.70" fill="none" stroke="#d8222a" stroke-width="1.1"/>
<line x1="319.40" y1="354.20" x2="319.40" y2="272.50" stroke="#e88a8e" stroke-width="0.9"/>
<path d="M319.4,268.5 L317.9,273.5 L320.9,273.5 Z" fill="#e88a8e" stroke="none" stroke-width="1.0"/>
<rect x="264.80" y="225.80" width="71.50" height="133.20" fill="none" stroke="#3a3a3a" stroke-width="1.1"/>
<line x1="264.80" y1="359.00" x2="269.30" y2="359.00" stroke="#3a3a3a" stroke-width="1"/>
<text x="261.00" y="362.00" font-size="7.0" font-weight="normal" fill="#333" stroke="#333" stroke-width="0.2" text-anchor="end">0</text>
<line x1="264.80" y1="325.70" x2="269.30" y2="325.70" stroke="#3a3a3a" stroke-width="1"/>
<text x="261.00" y="328.70" font-size="7.0" font-weight="normal" fill="#333" stroke="#333" stroke-width="0.2" text-anchor="end">200</text>
<line x1="264.80" y1="292.40" x2="269.30" y2="292.40" stroke="#3a3a3a" stroke-width="1"/>
<text x="261.00" y="295.40" font-size="7.0" font-weight="normal" fill="#333" stroke="#333" stroke-width="0.2" text-anchor="end">400</text>
<line x1="264.80" y1="259.10" x2="269.30" y2="259.10" stroke="#3a3a3a" stroke-width="1"/>
<text x="261.00" y="262.10" font-size="7.0" font-weight="normal" fill="#333" stroke="#333" stroke-width="0.2" text-anchor="end">600</text>
<line x1="264.80" y1="225.80" x2="269.30" y2="225.80" stroke="#3a3a3a" stroke-width="1"/>
<text x="261.00" y="228.80" font-size="7.0" font-weight="normal" fill="#333" stroke="#333" stroke-width="0.2" text-anchor="end">800</text>
<text x="264.80" y="368.90" font-size="7.0" font-weight="normal" fill="#333" stroke="#333" stroke-width="0.2" text-anchor="middle">0</text>
<line x1="300.40" y1="359.00" x2="300.40" y2="354.50" stroke="#3a3a3a" stroke-width="1"/>
<text x="300.40" y="368.90" font-size="7.0" font-weight="normal" fill="#333" stroke="#333" stroke-width="0.2" text-anchor="middle">5</text>
<text x="335.40" y="368.90" font-size="7.0" font-weight="normal" fill="#333" stroke="#333" stroke-width="0.2" text-anchor="middle">10</text>
<text x="266.90" y="382.00" font-size="9.0" font-weight="normal" fill="#333" stroke="#333" stroke-width="0.2" text-anchor="start" textLength="72.90" lengthAdjust="spacingAndGlyphs">Displacement (mm)</text>
<text x="244.50" y="282.70" font-size="9.0" font-weight="normal" fill="#333" stroke="#333" stroke-width="0.2" text-anchor="middle" textLength="65.60" lengthAdjust="spacingAndGlyphs" transform="rotate(-90 244.50 282.70)">Load/width (N/m)</text>
<line x1="269.30" y1="233.70" x2="287.20" y2="233.70" stroke="#777" stroke-width="1.1" stroke-dasharray="3.8,2.6"/>
<text x="290.20" y="236.80" font-size="9.0" font-weight="normal" fill="#444" stroke="#444" stroke-width="0.2" text-anchor="start" textLength="11.50" lengthAdjust="spacingAndGlyphs">LM</text>
<line x1="269.30" y1="244.80" x2="287.20" y2="244.80" stroke="#d8222a" stroke-width="1.1"/>
<text x="290.20" y="248.30" font-size="9.8" font-weight="normal" fill="#d8222a" stroke="#d8222a" stroke-width="0.2" text-anchor="start" textLength="16.50" lengthAdjust="spacingAndGlyphs">LMP</text>
<text x="307.60" y="250.30" font-size="6.5" font-weight="normal" fill="#d8222a" stroke="#d8222a" stroke-width="0.2" text-anchor="start" textLength="9.50" lengthAdjust="spacingAndGlyphs">Net</text>
<text x="277.80" y="304.90" font-size="8.3" font-weight="bold" fill="#d8222a" stroke="#d8222a" stroke-width="0.08" text-anchor="start" textLength="16.20" lengthAdjust="spacingAndGlyphs">High</text>
<text x="277.80" y="313.30" font-size="8.3" font-weight="bold" fill="#d8222a" stroke="#d8222a" stroke-width="0.08" text-anchor="start" textLength="35.30" lengthAdjust="spacingAndGlyphs">toughness</text>
<text x="277.80" y="323.60" font-size="8.3" font-weight="bold" fill="#d8222a" stroke="#d8222a" stroke-width="0.08" text-anchor="start" textLength="24.30" lengthAdjust="spacingAndGlyphs">of LMP</text>
<text x="302.90" y="325.50" font-size="5.6" font-weight="bold" fill="#d8222a" stroke="#d8222a" stroke-width="0.08" text-anchor="start" textLength="8.50" lengthAdjust="spacingAndGlyphs">Net</text>
<rect x="381.2" y="260.0" width="25.1" height="99" fill="#d21d25" stroke="#8a1015" stroke-width="0.8"/>
<rect x="345.5" y="356.6" width="26.9" height="2.4" fill="#6a6a6a"/>
<rect x="340.50" y="225.80" width="70.70" height="133.20" fill="none" stroke="#3a3a3a" stroke-width="1.1"/>
<line x1="411.20" y1="359.00" x2="410.70" y2="359.00" stroke="#3a3a3a" stroke-width="1"/>
<line x1="411.20" y1="359.00" x2="414.70" y2="359.00" stroke="#3a3a3a" stroke-width="1"/>
<text x="415.20" y="362.00" font-size="7.0" font-weight="normal" fill="#333" stroke="#333" stroke-width="0.2" text-anchor="start">0</text>
<line x1="411.20" y1="325.70" x2="410.70" y2="325.70" stroke="#3a3a3a" stroke-width="1"/>
<line x1="411.20" y1="325.70" x2="414.70" y2="325.70" stroke="#3a3a3a" stroke-width="1"/>
<text x="415.20" y="328.70" font-size="7.0" font-weight="normal" fill="#333" stroke="#333" stroke-width="0.2" text-anchor="start">200</text>
<line x1="411.20" y1="292.40" x2="410.70" y2="292.40" stroke="#3a3a3a" stroke-width="1"/>
<line x1="411.20" y1="292.40" x2="414.70" y2="292.40" stroke="#3a3a3a" stroke-width="1"/>
<text x="415.20" y="295.40" font-size="7.0" font-weight="normal" fill="#333" stroke="#333" stroke-width="0.2" text-anchor="start">400</text>
<line x1="411.20" y1="259.10" x2="410.70" y2="259.10" stroke="#3a3a3a" stroke-width="1"/>
<line x1="411.20" y1="259.10" x2="414.70" y2="259.10" stroke="#3a3a3a" stroke-width="1"/>
<text x="415.20" y="262.10" font-size="7.0" font-weight="normal" fill="#333" stroke="#333" stroke-width="0.2" text-anchor="start">600</text>
<line x1="411.20" y1="225.80" x2="410.70" y2="225.80" stroke="#3a3a3a" stroke-width="1"/>
<line x1="411.20" y1="225.80" x2="414.70" y2="225.80" stroke="#3a3a3a" stroke-width="1"/>
<text x="415.20" y="228.80" font-size="7.0" font-weight="normal" fill="#333" stroke="#333" stroke-width="0.2" text-anchor="start">800</text>
<line x1="394.00" y1="258.60" x2="394.00" y2="261.40" stroke="#333" stroke-width="0.7"/>
<text x="387.80" y="257.30" font-size="6.8" font-weight="normal" fill="#222" stroke="#222" stroke-width="0.2" text-anchor="start" textLength="11.10" lengthAdjust="spacingAndGlyphs">596</text>
<text x="352.30" y="354.20" font-size="6.8" font-weight="normal" fill="#222" stroke="#222" stroke-width="0.2" text-anchor="start" textLength="11.90" lengthAdjust="spacingAndGlyphs">11.2</text>
<text x="351.80" y="369.80" font-size="10.0" font-weight="bold" fill="#111" stroke="#111" stroke-width="0.08" text-anchor="start" textLength="14.20" lengthAdjust="spacingAndGlyphs">LM</text>
<text x="382.10" y="369.80" font-size="10.0" font-weight="bold" fill="#111" stroke="#111" stroke-width="0.08" text-anchor="start" textLength="19.50" lengthAdjust="spacingAndGlyphs">LMP</text>
<text x="402.20" y="372.00" font-size="6.8" font-weight="bold" fill="#111" stroke="#111" stroke-width="0.08" text-anchor="start" textLength="10.80" lengthAdjust="spacingAndGlyphs">Net</text>
<text x="350.20" y="248.00" font-size="9.2" font-weight="bold" fill="#d8222a" stroke="#d8222a" stroke-width="0.08" text-anchor="start" textLength="22.20" lengthAdjust="spacingAndGlyphs">Tough</text>
<text x="345.90" y="257.00" font-size="9.2" font-weight="bold" fill="#d8222a" stroke="#d8222a" stroke-width="0.08" text-anchor="start" textLength="31.40" lengthAdjust="spacingAndGlyphs">adhesion</text>
<path d="M359.8,323 L359.8,274.5 Q359.8,266.2 368,266.2 L372,266.2" fill="none" stroke="#e8898c" stroke-width="5.2"/>
<path d="M377.2,266.2 L371.2,261.3 L371.2,271.1 Z" fill="#e8898c" stroke="none" stroke-width="1.0"/>
<g transform="translate(434.8 248.7) rotate(90)"><text x="0" y="0" font-size="8.4" fill="#333" textLength="86.6" lengthAdjust="spacingAndGlyphs">Adhesion energy (J/m</text><text x="86.9" y="-3" font-size="5.2" fill="#333">2</text><text x="90.0" y="0" font-size="8.4" fill="#333">)</text></g>
<text x="0" y="0" font-size="14.5" font-weight="bold" fill="#111" transform="translate(466.00 217.0) scale(0.84 1)">F</text>
<text x="501.80" y="217.00" font-size="10.4" font-weight="bold" fill="#231f20" stroke="#231f20" stroke-width="0.08" text-anchor="start" textLength="126.70" lengthAdjust="spacingAndGlyphs">Mechanical robustness of LMP</text>
<text x="629.10" y="218.70" font-size="6.3" font-weight="bold" fill="#231f20" stroke="#231f20" stroke-width="0.08" text-anchor="start" textLength="9.80" lengthAdjust="spacingAndGlyphs">Net</text>
<rect x="489.80" y="225.80" width="161.50" height="54.60" fill="none" stroke="#3a3a3a" stroke-width="1.1"/>
<line x1="489.80" y1="226.10" x2="494.30" y2="226.10" stroke="#3a3a3a" stroke-width="1"/>
<text x="486.20" y="229.10" font-size="7.0" font-weight="normal" fill="#333" stroke="#333" stroke-width="0.2" text-anchor="end">3</text>
<line x1="489.80" y1="247.90" x2="494.30" y2="247.90" stroke="#3a3a3a" stroke-width="1"/>
<text x="486.20" y="250.90" font-size="7.0" font-weight="normal" fill="#333" stroke="#333" stroke-width="0.2" text-anchor="end">2</text>
<line x1="489.80" y1="269.70" x2="494.30" y2="269.70" stroke="#3a3a3a" stroke-width="1"/>
<text x="486.20" y="272.70" font-size="7.0" font-weight="normal" fill="#333" stroke="#333" stroke-width="0.2" text-anchor="end">1</text>
<text x="489.80" y="289.50" font-size="7.0" font-weight="normal" fill="#333" stroke="#333" stroke-width="0.2" text-anchor="middle">0</text>
<line x1="522.10" y1="280.40" x2="522.10" y2="275.90" stroke="#3a3a3a" stroke-width="1"/>
<text x="522.10" y="289.50" font-size="7.0" font-weight="normal" fill="#333" stroke="#333" stroke-width="0.2" text-anchor="middle">2000</text>
<line x1="554.40" y1="280.40" x2="554.40" y2="275.90" stroke="#3a3a3a" stroke-width="1"/>
<text x="554.40" y="289.50" font-size="7.0" font-weight="normal" fill="#333" stroke="#333" stroke-width="0.2" text-anchor="middle">4000</text>
<line x1="586.70" y1="280.40" x2="586.70" y2="275.90" stroke="#3a3a3a" stroke-width="1"/>
<text x="586.70" y="289.50" font-size="7.0" font-weight="normal" fill="#333" stroke="#333" stroke-width="0.2" text-anchor="middle">6000</text>
<line x1="619.00" y1="280.40" x2="619.00" y2="275.90" stroke="#3a3a3a" stroke-width="1"/>
<text x="619.00" y="289.50" font-size="7.0" font-weight="normal" fill="#333" stroke="#333" stroke-width="0.2" text-anchor="middle">8000</text>
<text x="651.30" y="289.50" font-size="7.0" font-weight="normal" fill="#333" stroke="#333" stroke-width="0.2" text-anchor="middle">10000</text>
<text x="557.00" y="298.60" font-size="9.0" font-weight="normal" fill="#222" stroke="#222" stroke-width="0.2" text-anchor="start" textLength="24.10" lengthAdjust="spacingAndGlyphs">Cycles</text>
<text x="473.60" y="260.80" font-size="8.8" font-weight="normal" fill="#2a2a2a" stroke="#2a2a2a" stroke-width="0.2" text-anchor="start" textLength="12.40" lengthAdjust="spacingAndGlyphs" transform="rotate(-90 473.60 260.80)">R/R</text>
<text x="476.00" y="248.20" font-size="5.6" font-weight="normal" fill="#2a2a2a" stroke="#2a2a2a" stroke-width="0.2" text-anchor="start" transform="rotate(-90 476.00 248.20)">0</text>
<path d="M489.80,269.02 L490.75,269.33 L491.70,269.11 L492.65,269.33 L493.60,269.33 L494.55,268.68 L495.50,268.60 L496.45,269.47 L497.40,268.81 L498.35,268.75 L499.30,269.56 L500.25,268.95 L501.20,269.33 L502.15,268.90 L503.10,269.05 L504.05,268.49 L505.00,268.99 L505.95,269.22 L506.90,268.81 L507.85,269.02 L508.80,268.91 L509.75,268.22 L510.70,268.95 L511.65,268.74 L512.60,268.39 L513.55,268.07 L514.50,268.95 L515.45,268.49 L516.40,268.74 L517.35,268.88 L518.30,268.67 L519.25,268.87 L520.20,268.26 L521.15,268.68 L522.10,268.26 L523.05,268.77 L524.00,268.68 L524.95,267.79 L525.90,267.80 L526.85,267.86 L527.80,268.66 L528.75,268.05 L529.70,268.23 L530.65,267.84 L531.60,268.04 L532.55,267.88 L533.50,267.81 L534.45,268.04 L535.40,268.01 L536.35,268.33 L537.30,268.06 L538.25,268.30 L539.20,268.19 L540.15,268.31 L541.10,267.93 L542.05,267.34 L543.00,268.08 L543.95,268.17 L544.90,268.07 L545.85,267.67 L546.80,267.80 L547.75,267.22 L548.70,267.87 L549.65,267.58 L550.60,267.26 L551.55,267.02 L552.50,267.89 L553.45,268.04 L554.40,267.05 L555.35,267.83 L556.30,267.40 L557.25,267.12 L558.20,267.27 L559.15,267.80 L560.10,267.91 L561.05,267.00 L562.00,267.63 L562.95,267.00 L563.90,267.74 L564.85,267.31 L565.80,267.92 L566.75,268.03 L567.70,267.51 L568.65,268.05 L569.60,267.29 L570.55,267.03 L571.50,267.61 L572.45,266.98 L573.40,267.17 L574.35,267.40 L575.30,267.62 L576.25,267.12 L577.20,267.00 L578.15,267.90 L579.10,267.30 L580.05,268.00 L581.00,267.94 L581.95,267.37 L582.90,267.46 L583.85,267.52 L584.80,267.66 L585.75,267.61 L586.70,267.57 L587.65,267.63 L588.60,267.98 L589.55,267.51 L590.50,267.42 L591.45,267.74 L592.40,267.21 L593.35,267.28 L594.30,268.03 L595.25,267.52 L596.20,267.55 L597.15,266.96 L598.10,267.41 L599.05,267.59 L600.00,266.87 L600.95,265.17 L601.90,265.22 L602.85,267.03 L603.80,267.69 L604.75,265.95 L605.70,266.23 L606.65,265.90 L607.60,267.93 L608.55,266.60 L609.50,265.85 L610.45,265.93 L611.40,268.05 L612.35,268.40 L613.30,267.66 L614.25,267.92 L615.20,268.11 L616.15,267.84 L617.10,267.92 L618.05,267.90 L619.00,267.99 L619.95,268.27 L620.90,267.98 L621.85,268.09 L622.80,268.56 L623.75,267.77 L624.70,268.40 L625.65,268.61 L626.60,268.18 L627.55,268.11 L628.50,268.78 L629.45,268.19 L630.40,268.17 L631.35,268.47 L632.30,268.79 L633.25,268.17 L634.20,268.44 L635.15,268.49 L636.10,269.07 L637.05,268.67 L638.00,269.16 L638.95,268.43 L639.90,268.65 L640.85,269.03 L641.80,269.32 L642.75,268.87 L643.70,268.65 L644.65,268.57 L645.60,269.05 L646.55,268.71 L647.50,269.42 L648.45,269.49 L649.40,268.80 L650.35,268.93 L651.30,269.55" fill="none" stroke="#2b47a8" stroke-width="1.1"/>
<path d="M501.6,241.4 L518.5,233.3 L518.5,250.3 L501.6,256.2 Z" fill="#c3dbeb" stroke="#aecbe0" stroke-width="0.5"/>
<path d="M507.0,244.0 L516.2,239.6 L516.2,247.4 L507.0,251.2 Z" fill="#6e6e6e" stroke="none" stroke-width="1.0"/>
<line x1="511.30" y1="252.50" x2="514.50" y2="258.20" stroke="#333" stroke-width="0.6"/>
<text x="519.90" y="239.10" font-size="8.8" font-weight="bold" fill="#231f20" stroke="#231f20" stroke-width="0.08" text-anchor="start" textLength="15.90" lengthAdjust="spacingAndGlyphs">tape</text>
<text x="549.30" y="239.10" font-size="8.6" font-weight="normal" fill="#222" stroke="#222" stroke-width="0.2" text-anchor="start" textLength="55.20" lengthAdjust="spacingAndGlyphs">Scotch tape test</text>
<text x="493.40" y="265.80" font-size="8.8" font-weight="normal" fill="#222" stroke="#222" stroke-width="0.2" text-anchor="start" textLength="38.20" lengthAdjust="spacingAndGlyphs">Circuit line</text>
<path d="M534.8,238.2 L543.1,234.8 L543.1,252.6 L534.8,257.4 Z" fill="#c3dbeb" stroke="none" stroke-width="1.0"/>
<path d="M536.5,236.4 Q528.2,246 536.5,258.4 L537.8,257.2 Q532.5,247 537.5,237.6 Z" fill="url(#tapeg)" stroke="none" stroke-width="1.0"/>
<rect x="538.5" y="243.0" width="31.4" height="6.6" fill="url(#cyl)"/>
<line x1="574.50" y1="248.80" x2="599.00" y2="248.80" stroke="#222" stroke-width="0.7"/>
<path d="M572.6,248.8 L575.6,247.4 L575.6,250.2 Z" fill="#222" stroke="none" stroke-width="1.0"/>
<path d="M600.8,248.8 L597.8,247.4 L597.8,250.2 Z" fill="#222" stroke="none" stroke-width="1.0"/>
<path d="M603.2,239.7 L614.3,234.8 L614.3,254.5 L603.2,258.2 Z" fill="#c3dbeb" stroke="none" stroke-width="1.0"/>
<rect x="613.0" y="242.6" width="29.5" height="6.8" fill="url(#cyl)"/>
<rect x="489.80" y="301.90" width="161.50" height="57.00" fill="none" stroke="#3a3a3a" stroke-width="1.1"/>
<line x1="489.80" y1="302.90" x2="494.30" y2="302.90" stroke="#3a3a3a" stroke-width="1"/>
<text x="486.20" y="305.90" font-size="7.0" font-weight="normal" fill="#333" stroke="#333" stroke-width="0.2" text-anchor="end">3</text>
<line x1="489.80" y1="325.30" x2="494.30" y2="325.30" stroke="#3a3a3a" stroke-width="1"/>
<text x="486.20" y="328.30" font-size="7.0" font-weight="normal" fill="#333" stroke="#333" stroke-width="0.2" text-anchor="end">2</text>
<line x1="489.80" y1="348.00" x2="494.30" y2="348.00" stroke="#3a3a3a" stroke-width="1"/>
<text x="486.20" y="351.00" font-size="7.0" font-weight="normal" fill="#333" stroke="#333" stroke-width="0.2" text-anchor="end">1</text>
<text x="489.80" y="368.30" font-size="7.0" font-weight="normal" fill="#333" stroke="#333" stroke-width="0.2" text-anchor="middle">0</text>
<line x1="543.63" y1="358.90" x2="543.63" y2="354.40" stroke="#3a3a3a" stroke-width="1"/>
<text x="543.63" y="368.30" font-size="7.0" font-weight="normal" fill="#333" stroke="#333" stroke-width="0.2" text-anchor="middle">5</text>
<line x1="597.47" y1="358.90" x2="597.47" y2="354.40" stroke="#3a3a3a" stroke-width="1"/>
<text x="597.47" y="368.30" font-size="7.0" font-weight="normal" fill="#333" stroke="#333" stroke-width="0.2" text-anchor="middle">10</text>
<text x="651.30" y="368.30" font-size="7.0" font-weight="normal" fill="#333" stroke="#333" stroke-width="0.2" text-anchor="middle">15</text>
<text x="564.60" y="381.30" font-size="9.0" font-weight="normal" fill="#222" stroke="#222" stroke-width="0.2" text-anchor="start" textLength="41.20" lengthAdjust="spacingAndGlyphs">Time (sec)</text>
<text x="473.60" y="338.90" font-size="8.8" font-weight="normal" fill="#2a2a2a" stroke="#2a2a2a" stroke-width="0.2" text-anchor="start" textLength="12.50" lengthAdjust="spacingAndGlyphs" transform="rotate(-90 473.60 338.90)">R/R</text>
<text x="476.00" y="326.20" font-size="5.6" font-weight="normal" fill="#2a2a2a" stroke="#2a2a2a" stroke-width="0.2" text-anchor="start" transform="rotate(-90 476.00 326.20)">0</text>
<path d="M489.8,347.0 L560,346.6 L600,346.0 L651.3,345.7" fill="none" stroke="#222" stroke-width="1.3"/>
<line x1="501.00" y1="357.60" x2="501.00" y2="351.50" stroke="#e0262d" stroke-width="1.0"/>
<path d="M501,349.0 L499.1,352.6 L502.9,352.6 Z" fill="#e0262d" stroke="none" stroke-width="1.0"/>
<line x1="510.20" y1="357.60" x2="510.20" y2="351.50" stroke="#e0262d" stroke-width="1.0"/>
<path d="M510.2,349.0 L508.3,352.6 L512.1,352.6 Z" fill="#e0262d" stroke="none" stroke-width="1.0"/>
<line x1="529.60" y1="357.60" x2="529.60" y2="351.50" stroke="#e0262d" stroke-width="1.0"/>
<path d="M529.6,349.0 L527.7,352.6 L531.5,352.6 Z" fill="#e0262d" stroke="none" stroke-width="1.0"/>
<line x1="539.60" y1="357.60" x2="539.60" y2="351.50" stroke="#e0262d" stroke-width="1.0"/>
<path d="M539.6,349.0 L537.7,352.6 L541.5,352.6 Z" fill="#e0262d" stroke="none" stroke-width="1.0"/>
<line x1="549.00" y1="357.60" x2="549.00" y2="351.50" stroke="#e0262d" stroke-width="1.0"/>
<path d="M549,349.0 L547.1,352.6 L550.9,352.6 Z" fill="#e0262d" stroke="none" stroke-width="1.0"/>
<line x1="561.00" y1="357.60" x2="561.00" y2="351.50" stroke="#e0262d" stroke-width="1.0"/>
<path d="M561,349.0 L559.1,352.6 L562.9,352.6 Z" fill="#e0262d" stroke="none" stroke-width="1.0"/>
<line x1="572.20" y1="357.60" x2="572.20" y2="351.50" stroke="#e0262d" stroke-width="1.0"/>
<path d="M572.2,349.0 L570.3000000000001,352.6 L574.1,352.6 Z" fill="#e0262d" stroke="none" stroke-width="1.0"/>
<line x1="579.20" y1="357.60" x2="579.20" y2="351.50" stroke="#e0262d" stroke-width="1.0"/>
<path d="M579.2,349.0 L577.3000000000001,352.6 L581.1,352.6 Z" fill="#e0262d" stroke="none" stroke-width="1.0"/>
<line x1="588.60" y1="357.60" x2="588.60" y2="351.50" stroke="#e0262d" stroke-width="1.0"/>
<path d="M588.6,349.0 L586.7,352.6 L590.5,352.6 Z" fill="#e0262d" stroke="none" stroke-width="1.0"/>
<line x1="600.80" y1="357.60" x2="600.80" y2="351.50" stroke="#e0262d" stroke-width="1.0"/>
<path d="M600.8,349.0 L598.9,352.6 L602.6999999999999,352.6 Z" fill="#e0262d" stroke="none" stroke-width="1.0"/>
<text x="505.20" y="315.60" font-size="8.7" font-weight="normal" fill="#222" stroke="#222" stroke-width="0.2" text-anchor="start" textLength="40.10" lengthAdjust="spacingAndGlyphs">Scratch test</text>
<text x="566.10" y="326.00" font-size="8.7" font-weight="normal" fill="#222" stroke="#222" stroke-width="0.2" text-anchor="start" textLength="25.70" lengthAdjust="spacingAndGlyphs">Scratch</text>
<path d="M507.4,327.5 L519.5,323.0 L565,332.6 L565,335.2 L555,340.2 L507.4,330.2 Z" fill="#bfdcee" stroke="none" stroke-width="1.0"/>
<path d="M507.4,327.5 L519.5,323.0 L565,332.6 L555,337.8 Z" fill="#cde5f3" stroke="none" stroke-width="1.0"/>
<path d="M517,327.2 L521,324.8 L554.5,331.8 L551,334.2 Z" fill="#4a4a4a" stroke="none" stroke-width="1.0"/>
<line x1="520.00" y1="330.30" x2="529.70" y2="325.10" stroke="#e02020" stroke-width="0.9"/>
<path d="M546,328.8 Q547.5,318 561.7,309.5" fill="none" stroke="#444" stroke-width="0.6"/>
<rect x="595.0" y="311.3" width="52.2" height="25.1" fill="#434343"/>
<rect x="595.0" y="316.0" width="2" height="1.7" fill="rgb(68,68,68)"/>
<rect x="597.0" y="316.0" width="2" height="1.7" fill="rgb(73,73,73)"/>
<rect x="599.0" y="316.0" width="2" height="1.7" fill="rgb(52,52,52)"/>
<rect x="603.0" y="316.0" width="2" height="1.7" fill="rgb(51,51,51)"/>
<rect x="615.0" y="316.0" width="2" height="1.7" fill="rgb(62,62,62)"/>
<rect x="617.0" y="316.0" width="2" height="1.7" fill="rgb(85,85,85)"/>
<rect x="619.0" y="316.0" width="2" height="1.7" fill="rgb(84,84,84)"/>
<rect x="621.0" y="316.0" width="2" height="1.7" fill="rgb(51,51,51)"/>
<rect x="623.0" y="316.0" width="2" height="1.7" fill="rgb(50,50,50)"/>
<rect x="633.0" y="316.0" width="2" height="1.7" fill="rgb(85,85,85)"/>
<rect x="637.0" y="316.0" width="2" height="1.7" fill="rgb(83,83,83)"/>
<rect x="597.0" y="317.7" width="2" height="1.7" fill="rgb(63,63,63)"/>
<rect x="599.0" y="317.7" width="2" height="1.7" fill="rgb(92,92,92)"/>
<rect x="601.0" y="317.7" width="2" height="1.7" fill="rgb(53,53,53)"/>
<rect x="605.0" y="317.7" width="2" height="1.7" fill="rgb(69,69,69)"/>
<rect x="607.0" y="317.7" width="2" height="1.7" fill="rgb(66,66,66)"/>
<rect x="619.0" y="317.7" width="2" height="1.7" fill="rgb(83,83,83)"/>
<rect x="623.0" y="317.7" width="2" height="1.7" fill="rgb(70,70,70)"/>
<rect x="625.0" y="317.7" width="2" height="1.7" fill="rgb(85,85,85)"/>
<rect x="627.0" y="317.7" width="2" height="1.7" fill="rgb(52,52,52)"/>
<rect x="633.0" y="317.7" width="2" height="1.7" fill="rgb(94,94,94)"/>
<rect x="635.0" y="317.7" width="2" height="1.7" fill="rgb(89,89,89)"/>
<rect x="637.0" y="317.7" width="2" height="1.7" fill="rgb(91,91,91)"/>
<rect x="639.0" y="317.7" width="2" height="1.7" fill="rgb(66,66,66)"/>
<rect x="605.0" y="319.4" width="2" height="1.7" fill="rgb(65,65,65)"/>
<rect x="607.0" y="319.4" width="2" height="1.7" fill="rgb(75,75,75)"/>
<rect x="609.0" y="319.4" width="2" height="1.7" fill="rgb(65,65,65)"/>
<rect x="611.0" y="319.4" width="2" height="1.7" fill="rgb(70,70,70)"/>
<rect x="613.0" y="319.4" width="2" height="1.7" fill="rgb(72,72,72)"/>
<rect x="627.0" y="319.4" width="2" height="1.7" fill="rgb(87,87,87)"/>
<rect x="629.0" y="319.4" width="2" height="1.7" fill="rgb(56,56,56)"/>
<rect x="631.0" y="319.4" width="2" height="1.7" fill="rgb(80,80,80)"/>
<rect x="633.0" y="319.4" width="2" height="1.7" fill="rgb(89,89,89)"/>
<rect x="637.0" y="319.4" width="2" height="1.7" fill="rgb(91,91,91)"/>
<rect x="603.0" y="321.1" width="2" height="1.7" fill="rgb(54,54,54)"/>
<rect x="607.0" y="321.1" width="2" height="1.7" fill="rgb(61,61,61)"/>
<rect x="609.0" y="321.1" width="2" height="1.7" fill="rgb(57,57,57)"/>
<rect x="611.0" y="321.1" width="2" height="1.7" fill="rgb(70,70,70)"/>
<rect x="615.0" y="321.1" width="2" height="1.7" fill="rgb(79,79,79)"/>
<rect x="621.0" y="321.1" width="2" height="1.7" fill="rgb(54,54,54)"/>
<rect x="633.0" y="321.1" width="2" height="1.7" fill="rgb(49,49,49)"/>
<rect x="635.0" y="321.1" width="2" height="1.7" fill="rgb(67,67,67)"/>
<rect x="637.0" y="321.1" width="2" height="1.7" fill="rgb(53,53,53)"/>
<rect x="595.0" y="322.8" width="2" height="1.7" fill="rgb(62,62,62)"/>
<rect x="597.0" y="322.8" width="2" height="1.7" fill="rgb(96,96,96)"/>
<rect x="599.0" y="322.8" width="2" height="1.7" fill="rgb(63,63,63)"/>
<rect x="601.0" y="322.8" width="2" height="1.7" fill="rgb(95,95,95)"/>
<rect x="605.0" y="322.8" width="2" height="1.7" fill="rgb(70,70,70)"/>
<rect x="607.0" y="322.8" width="2" height="1.7" fill="rgb(49,49,49)"/>
<rect x="611.0" y="322.8" width="2" height="1.7" fill="rgb(92,92,92)"/>
<rect x="615.0" y="322.8" width="2" height="1.7" fill="rgb(94,94,94)"/>
<rect x="623.0" y="322.8" width="2" height="1.7" fill="rgb(78,78,78)"/>
<rect x="625.0" y="322.8" width="2" height="1.7" fill="rgb(87,87,87)"/>
<rect x="627.0" y="322.8" width="2" height="1.7" fill="rgb(78,78,78)"/>
<rect x="629.0" y="322.8" width="2" height="1.7" fill="rgb(70,70,70)"/>
<rect x="631.0" y="322.8" width="2" height="1.7" fill="rgb(53,53,53)"/>
<rect x="633.0" y="322.8" width="2" height="1.7" fill="rgb(55,55,55)"/>
<rect x="635.0" y="322.8" width="2" height="1.7" fill="rgb(93,93,93)"/>
<rect x="637.0" y="322.8" width="2" height="1.7" fill="rgb(78,78,78)"/>
<rect x="639.0" y="322.8" width="2" height="1.7" fill="rgb(75,75,75)"/>
<rect x="645.0" y="322.8" width="2" height="1.7" fill="rgb(73,73,73)"/>
<rect x="595.0" y="324.5" width="2" height="1.7" fill="rgb(53,53,53)"/>
<rect x="597.0" y="324.5" width="2" height="1.7" fill="rgb(58,58,58)"/>
<rect x="601.0" y="324.5" width="2" height="1.7" fill="rgb(77,77,77)"/>
<rect x="603.0" y="324.5" width="2" height="1.7" fill="rgb(57,57,57)"/>
<rect x="605.0" y="324.5" width="2" height="1.7" fill="rgb(86,86,86)"/>
<rect x="607.0" y="324.5" width="2" height="1.7" fill="rgb(90,90,90)"/>
<rect x="613.0" y="324.5" width="2" height="1.7" fill="rgb(94,94,94)"/>
<rect x="615.0" y="324.5" width="2" height="1.7" fill="rgb(81,81,81)"/>
<rect x="619.0" y="324.5" width="2" height="1.7" fill="rgb(60,60,60)"/>
<rect x="625.0" y="324.5" width="2" height="1.7" fill="rgb(63,63,63)"/>
<rect x="629.0" y="324.5" width="2" height="1.7" fill="rgb(74,74,74)"/>
<rect x="631.0" y="324.5" width="2" height="1.7" fill="rgb(51,51,51)"/>
<rect x="633.0" y="324.5" width="2" height="1.7" fill="rgb(70,70,70)"/>
<rect x="635.0" y="324.5" width="2" height="1.7" fill="rgb(90,90,90)"/>
<rect x="643.0" y="324.5" width="2" height="1.7" fill="rgb(49,49,49)"/>
<rect x="645.0" y="324.5" width="2" height="1.7" fill="rgb(59,59,59)"/>
<rect x="597.0" y="326.2" width="2" height="1.7" fill="rgb(78,78,78)"/>
<rect x="599.0" y="326.2" width="2" height="1.7" fill="rgb(55,55,55)"/>
<rect x="601.0" y="326.2" width="2" height="1.7" fill="rgb(68,68,68)"/>
<rect x="603.0" y="326.2" width="2" height="1.7" fill="rgb(81,81,81)"/>
<rect x="605.0" y="326.2" width="2" height="1.7" fill="rgb(54,54,54)"/>
<rect x="617.0" y="326.2" width="2" height="1.7" fill="rgb(87,87,87)"/>
<rect x="627.0" y="326.2" width="2" height="1.7" fill="rgb(63,63,63)"/>
<rect x="629.0" y="326.2" width="2" height="1.7" fill="rgb(64,64,64)"/>
<rect x="631.0" y="326.2" width="2" height="1.7" fill="rgb(60,60,60)"/>
<rect x="637.0" y="326.2" width="2" height="1.7" fill="rgb(52,52,52)"/>
<rect x="643.0" y="326.2" width="2" height="1.7" fill="rgb(55,55,55)"/>
<rect x="645.0" y="326.2" width="2" height="1.7" fill="rgb(57,57,57)"/>
<rect x="595.0" y="327.9" width="2" height="1.7" fill="rgb(89,89,89)"/>
<rect x="599.0" y="327.9" width="2" height="1.7" fill="rgb(56,56,56)"/>
<rect x="601.0" y="327.9" width="2" height="1.7" fill="rgb(62,62,62)"/>
<rect x="607.0" y="327.9" width="2" height="1.7" fill="rgb(90,90,90)"/>
<rect x="609.0" y="327.9" width="2" height="1.7" fill="rgb(58,58,58)"/>
<rect x="629.0" y="327.9" width="2" height="1.7" fill="rgb(62,62,62)"/>
<rect x="637.0" y="327.9" width="2" height="1.7" fill="rgb(56,56,56)"/>
<rect x="639.0" y="327.9" width="2" height="1.7" fill="rgb(91,91,91)"/>
<rect x="643.0" y="327.9" width="2" height="1.7" fill="rgb(82,82,82)"/>
<rect x="597.0" y="329.6" width="2" height="1.7" fill="rgb(51,51,51)"/>
<rect x="603.0" y="329.6" width="2" height="1.7" fill="rgb(49,49,49)"/>
<rect x="611.0" y="329.6" width="2" height="1.7" fill="rgb(69,69,69)"/>
<rect x="613.0" y="329.6" width="2" height="1.7" fill="rgb(74,74,74)"/>
<rect x="615.0" y="329.6" width="2" height="1.7" fill="rgb(65,65,65)"/>
<rect x="619.0" y="329.6" width="2" height="1.7" fill="rgb(63,63,63)"/>
<rect x="625.0" y="329.6" width="2" height="1.7" fill="rgb(67,67,67)"/>
<rect x="627.0" y="329.6" width="2" height="1.7" fill="rgb(81,81,81)"/>
<rect x="633.0" y="329.6" width="2" height="1.7" fill="rgb(70,70,70)"/>
<rect x="637.0" y="329.6" width="2" height="1.7" fill="rgb(49,49,49)"/>
<rect x="639.0" y="329.6" width="2" height="1.7" fill="rgb(83,83,83)"/>
<rect x="597.0" y="331.3" width="2" height="1.7" fill="rgb(73,73,73)"/>
<rect x="599.0" y="331.3" width="2" height="1.7" fill="rgb(67,67,67)"/>
<rect x="603.0" y="331.3" width="2" height="1.7" fill="rgb(93,93,93)"/>
<rect x="607.0" y="331.3" width="2" height="1.7" fill="rgb(70,70,70)"/>
<rect x="611.0" y="331.3" width="2" height="1.7" fill="rgb(88,88,88)"/>
<rect x="617.0" y="331.3" width="2" height="1.7" fill="rgb(72,72,72)"/>
<rect x="619.0" y="331.3" width="2" height="1.7" fill="rgb(90,90,90)"/>
<rect x="629.0" y="331.3" width="2" height="1.7" fill="rgb(71,71,71)"/>
<rect x="633.0" y="331.3" width="2" height="1.7" fill="rgb(50,50,50)"/>
<rect x="603.0" y="333.0" width="2" height="1.7" fill="rgb(85,85,85)"/>
<rect x="607.0" y="333.0" width="2" height="1.7" fill="rgb(93,93,93)"/>
<rect x="611.0" y="333.0" width="2" height="1.7" fill="rgb(68,68,68)"/>
<rect x="615.0" y="333.0" width="2" height="1.7" fill="rgb(94,94,94)"/>
<rect x="619.0" y="333.0" width="2" height="1.7" fill="rgb(93,93,93)"/>
<rect x="623.0" y="333.0" width="2" height="1.7" fill="rgb(92,92,92)"/>
<rect x="625.0" y="333.0" width="2" height="1.7" fill="rgb(56,56,56)"/>
<rect x="629.0" y="333.0" width="2" height="1.7" fill="rgb(49,49,49)"/>
<rect x="631.0" y="333.0" width="2" height="1.7" fill="rgb(85,85,85)"/>
<rect x="633.0" y="333.0" width="2" height="1.7" fill="rgb(93,93,93)"/>
<rect x="635.0" y="333.0" width="2" height="1.7" fill="rgb(92,92,92)"/>
<rect x="639.0" y="333.0" width="2" height="1.7" fill="rgb(56,56,56)"/>
<rect x="643.0" y="333.0" width="2" height="1.7" fill="rgb(76,76,76)"/>
<rect x="595.0" y="334.7" width="2" height="1.7" fill="rgb(82,82,82)"/>
<rect x="599.0" y="334.7" width="2" height="1.7" fill="rgb(77,77,77)"/>
<rect x="601.0" y="334.7" width="2" height="1.7" fill="rgb(95,95,95)"/>
<rect x="609.0" y="334.7" width="2" height="1.7" fill="rgb(52,52,52)"/>
<rect x="611.0" y="334.7" width="2" height="1.7" fill="rgb(63,63,63)"/>
<rect x="615.0" y="334.7" width="2" height="1.7" fill="rgb(89,89,89)"/>
<rect x="617.0" y="334.7" width="2" height="1.7" fill="rgb(79,79,79)"/>
<rect x="623.0" y="334.7" width="2" height="1.7" fill="rgb(50,50,50)"/>
<rect x="629.0" y="334.7" width="2" height="1.7" fill="rgb(64,64,64)"/>
<rect x="637.0" y="334.7" width="2" height="1.7" fill="rgb(65,65,65)"/>
<rect x="639.0" y="334.7" width="2" height="1.7" fill="rgb(54,54,54)"/>
<rect x="595.0" y="311.3" width="52.2" height="4.5" fill="#66625f"/>
<rect x="599" y="313.9" width="47" height="1.2" fill="#939393"/>
<line x1="603.40" y1="315.80" x2="603.60" y2="336.30" stroke="#161616" stroke-width="1.6"/>
<line x1="609.60" y1="315.80" x2="614.40" y2="336.30" stroke="#161616" stroke-width="1.7"/>
<line x1="613.30" y1="315.80" x2="610.50" y2="336.30" stroke="#161616" stroke-width="1.5"/>
<line x1="621.90" y1="315.80" x2="619.80" y2="336.30" stroke="#161616" stroke-width="1.5"/>
<line x1="638.50" y1="315.80" x2="641.00" y2="336.30" stroke="#161616" stroke-width="1.8"/>
</svg></body></html>
